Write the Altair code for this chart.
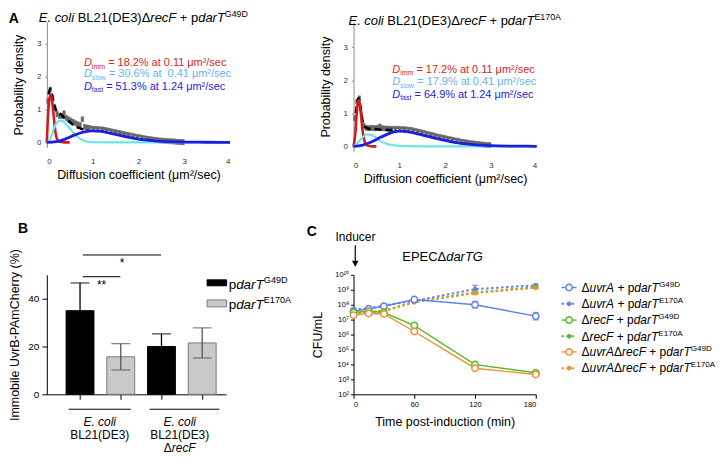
import altair as alt
import numpy as np
import pandas as pd

FONT = "Liberation Sans"

# ------------------------------------------------------------------ data
# Panel A : histograms (bin width 0.05 um2/s, starting at 0) and fitted curves
A_BIN_LEFT = [round(0.05 * i, 2) for i in range(60)]
A1_HIST = [1.25, 1.6, 1.35, 1.05, 0.86, 0.8, 0.8, 0.88, 0.74, 0.7, 0.66, 0.62, 0.58, 0.55, 0.52, 0.7, 0.47, 0.45, 0.44, 0.42,
           0.41, 0.405, 0.4, 0.395, 0.39, 0.375, 0.36, 0.345, 0.33, 0.315, 0.3, 0.285, 0.27, 0.255, 0.24, 0.225, 0.21, 0.195, 0.18, 0.167,
           0.155, 0.14, 0.127, 0.115, 0.103, 0.093, 0.083, 0.074, 0.065, 0.058, 0.052, 0.046, 0.04, 0.036, 0.032, 0.028, 0.02, 0.015, 0.01, 0.006]
A2_HIST = [0.85, 1.35, 1.45, 0.95, 0.62, 0.56, 0.55, 0.56, 0.55, 0.55, 0.56, 0.6, 0.55, 0.54, 0.54, 0.53, 0.53, 0.53, 0.53, 0.53,
           0.52, 0.52, 0.515, 0.51, 0.5, 0.49, 0.475, 0.46, 0.44, 0.425, 0.41, 0.39, 0.37, 0.355, 0.34, 0.32, 0.3, 0.285, 0.27, 0.255,
           0.24, 0.225, 0.21, 0.195, 0.18, 0.165, 0.15, 0.14, 0.13, 0.118, 0.106, 0.095, 0.085, 0.076, 0.068, 0.06, 0.055, 0.048, 0.042, 0.036]

A1_RED_X = [0, 0.03, 0.06, 0.09, 0.12, 0.15, 0.18, 0.21, 0.25, 0.3, 0.4, 0.5]
A1_RED_Y = [0, 0.9, 1.35, 1.45, 1.2, 0.8, 0.4, 0.15, 0.05, 0.01, 0, 0]
A1_CYAN_X = [0, 0.05, 0.1, 0.15, 0.2, 0.25, 0.3, 0.35, 0.4, 0.5, 0.6, 0.7, 0.8, 0.9, 1.0, 1.2, 4.0]
A1_CYAN_Y = [0, 0.04, 0.2, 0.4, 0.56, 0.64, 0.66, 0.64, 0.58, 0.43, 0.26, 0.13, 0.06, 0.02, 0.005, 0, 0]
A1_BLUE_X = [0, 0.2, 0.4, 0.6, 0.8, 1.0, 1.2, 1.4, 1.6, 1.8, 2.0, 2.2, 2.4, 2.6, 2.8, 3.0, 3.5, 4.0]
A1_BLUE_Y = [0, 0.02, 0.1, 0.22, 0.31, 0.35, 0.33, 0.27, 0.21, 0.15, 0.1, 0.065, 0.04, 0.025, 0.015, 0.01, 0.004, 0.001]
A1_SUM_X = [0.04, 0.07, 0.1, 0.15, 0.2, 0.3, 0.4, 0.5, 0.6, 0.7, 0.8, 0.9]
A1_SUM_Y = [1.45, 1.62, 1.5, 1.2, 0.98, 0.86, 0.72, 0.62, 0.5, 0.44, 0.39, 0.36]
A1_EDGE_X = [0.95, 1.2, 1.4, 1.6, 1.8, 2.0, 2.2]
A1_EDGE_Y = [0.395, 0.375, 0.315, 0.255, 0.195, 0.145, 0.105]

A2_RED_X = [0, 0.04, 0.07, 0.1, 0.12, 0.15, 0.18, 0.21, 0.25, 0.3, 0.4, 0.5]
A2_RED_Y = [0, 0.4, 1.0, 1.35, 1.4, 1.15, 0.7, 0.35, 0.12, 0.03, 0, 0]
A2_CYAN_X = [0, 0.1, 0.2, 0.3, 0.4, 0.5, 0.6, 0.7, 0.8, 0.9, 1.0, 1.2, 1.5, 4.0]
A2_CYAN_Y = [0, 0.12, 0.28, 0.36, 0.34, 0.26, 0.15, 0.09, 0.05, 0.03, 0.015, 0.005, 0, 0]
A2_BLUE_X = [0, 0.2, 0.4, 0.6, 0.8, 1.0, 1.2, 1.4, 1.6, 1.8, 2.0, 2.2, 2.4, 2.6, 2.8, 3.0, 3.5, 4.0]
A2_BLUE_Y = [0, 0.04, 0.14, 0.28, 0.4, 0.46, 0.44, 0.38, 0.31, 0.24, 0.18, 0.12, 0.08, 0.05, 0.035, 0.02, 0.008, 0.002]
A2_SUM_X = [0.05, 0.08, 0.11, 0.14, 0.18, 0.22, 0.3, 0.4, 0.5, 0.6, 0.7, 0.8, 0.9]
A2_SUM_Y = [1.0, 1.3, 1.45, 1.3, 0.9, 0.65, 0.55, 0.52, 0.52, 0.5, 0.5, 0.49, 0.49]
A2_EDGE_X = [0.75, 1.0, 1.2, 1.4, 1.6, 1.8, 2.0, 2.2, 2.4]
A2_EDGE_Y = [0.505, 0.505, 0.485, 0.425, 0.355, 0.285, 0.225, 0.165, 0.125]

A1_FIT_TEXT = ["= 18.2% at 0.11 μm²/sec", "= 30.6% at  0.41 μm²/sec", "= 51.3% at 1.24 μm²/sec"]
A2_FIT_TEXT = ["= 17.2% at 0.11 μm²/sec", "= 17.9% at 0.41 μm²/sec", "= 64.9% at 1.24 μm²/sec"]
FIT_SUB = ["imm", "slow", "fast"]

# Panel B : immobile UvrB fraction
B_POS = [1, 2, 3, 4]
B_MEAN = [35.0, 15.7, 20.0, 21.5]
B_ERR = [11.6, 5.5, 5.3, 6.3]
B_PLASMID = ["G49D", "E170A", "G49D", "E170A"]

# Panel C : CFU/mL over time
C_TIME = [0, 15, 30, 60, 120, 180]
C_SERIES = [
    # (strain, plasmid, values, error half-width in decades)
    ("uvrA", "G49D", [3.6e7, 5.4e7, 7.8e7, 2.2e8, 1.0e8, 1.7e7], [0.15, 0.1, 0.15, 0.08, 0.22, 0.25]),
    ("uvrA", "E170A", [4.7e7, 5.6e7, 8.9e7, 1.8e8, 1.1e9, 2.0e9], [0.1, 0.05, 0.05, 0.05, 0.25, 0.08]),
    ("recF", "G49D", [3.0e7, 3.6e7, 3.0e7, 4.0e6, 9.8e3, 2.8e3], [0.05, 0.05, 0.05, 0.12, 0.15, 0.08]),
    ("recF", "E170A", [2.5e7, 3.2e7, 4.0e7, 1.5e8, 6.6e8, 1.5e9], [0, 0, 0, 0, 0.1, 0.05]),
    ("uvrArecF", "G49D", [2.0e7, 2.6e7, 2.4e7, 1.6e6, 5.6e3, 2.1e3], [0.08, 0.05, 0.05, 0.05, 0.05, 0.05]),
    ("uvrArecF", "E170A", [2.2e7, 3.2e7, 3.6e7, 1.45e8, 6.0e8, 1.35e9], [0, 0, 0, 0, 0.1, 0.05]),
]
C_COLORS = {"uvrA": "#5f80f0", "recF": "#5bb82c", "uvrArecF": "#ea9236"}

# ------------------------------------------------------------------ text helper
W = {' ': 278, '(': 333, ')': 333, '*': 389, '+': 584, '-': 333, '.': 278, '/': 278, '=': 584, '%': 889,
     'Δ': 668, 'μ': 576, '²': 333}
for ch in "0123456789":
    W[ch] = 556
W.update(dict(zip("ABCDEFGHIJKLMNOPQRSTUVWXYZ",
                  [667, 667, 722, 722, 667, 611, 778, 722, 278, 500, 667, 556, 833, 722, 778, 667, 778, 722, 667, 611, 722, 667, 944, 667, 667, 611])))
W.update(dict(zip("abcdefghijklmnopqrstuvwxyz",
                  [556, 556, 500, 556, 556, 278, 556, 556, 222, 222, 500, 222, 833, 556, 556, 556, 556, 333, 500, 278, 556, 500, 722, 500, 500, 500])))


def tw(s, fs):
    return sum(W.get(c, 556) for c in s) * fs / 1000.0


def rich(X, Y, x, y, pieces, fs, color="black", align="left", small=0.68):
    """pieces: list of (text, kind) kind in n / i / b / sup / sub"""
    sizes = [fs * small if k in ("sup", "sub") else fs for _, k in pieces]
    widths = [tw(t, f) for (t, _), f in zip(pieces, sizes)]
    total = sum(widths)
    off = {"left": 0, "center": -total / 2, "right": -total}[align]
    df = pd.DataFrame({"x": [x], "y": [y]})
    out = []
    for (t, k), f, w in zip(pieces, sizes, widths):
        dy = fs * 0.36
        if k == "sup":
            dy -= fs * 0.42
        if k == "sub":
            dy += fs * 0.22
        lead = len(t) - len(t.lstrip(" "))
        shown = t.strip(" ")
        out.append(
            alt.Chart(df).mark_text(
                align="left", baseline="alphabetic", dx=round(off + lead * W[" "] * f / 1000.0, 2), dy=round(dy, 2),
                fontSize=round(f, 2), fontStyle="italic" if k == "i" else "normal",
                fontWeight="bold" if k == "b" else "normal", color=color, font=FONT,
            ).encode(x=X, y=Y, text=alt.value(shown.replace(" ", "\u00a0")))
        )
        off += w
    return out


# ------------------------------------------------------------------ panel A
def panel_a(hist, red, cyan, blue, summ, edge, ymax, height, title_xy, plasmid, fit_text, fit_xy, letter_xy=None):
    X = alt.X("x:Q", scale=alt.Scale(domain=[0, 4], nice=False, zero=False),
              axis=alt.Axis(values=[0, 1, 2, 3, 4], domain=False, ticks=False, labelFontSize=8,
                            labelPadding=10, labelColor="#333333", title="Diffusion coefficient (μm²/sec)",
                            titleFontSize=12.5, titlePadding=3, titleColor="black"))
    Y = alt.Y("y:Q", scale=alt.Scale(domain=[0, ymax], nice=False, zero=True),
              axis=alt.Axis(values=[0, 1, 2, 3], domainColor="#8a8a8a", tickColor="#8a8a8a", tickSize=2,
                            labelFontSize=8, labelPadding=4, labelColor="#333333", title="Probability density",
                            titleFontSize=12.5, titlePadding=11, titleColor="black"))
    hdf = pd.DataFrame({"x": A_BIN_LEFT, "y": hist})
    layers = [
        alt.Chart(hdf).transform_calculate(x2="datum.x + 0.05").mark_bar(
            color="#686868", stroke="#686868", strokeWidth=0.7).encode(x=X, x2="x2:Q", y=Y),
        alt.Chart(pd.DataFrame({"x": edge[0], "y": edge[1]})).mark_line(
            color="white", strokeWidth=1.1, strokeDash=[1.5, 3], interpolate="monotone").encode(x=X, y=Y),
        alt.Chart(pd.DataFrame({"x": summ[0], "y": summ[1]})).mark_line(
            color="black", strokeWidth=2.6, strokeDash=[7, 4], interpolate="monotone").encode(x=X, y=Y),
        alt.Chart(pd.DataFrame({"x": red[0], "y": red[1]})).mark_line(
            color="#d01c1c", strokeWidth=2.6, interpolate="monotone").encode(x=X, y=Y),
        alt.Chart(pd.DataFrame({"x": cyan[0], "y": cyan[1]})).mark_line(
            color="#6ae6e8", strokeWidth=2.2, interpolate="monotone").encode(x=X, y=Y),
        alt.Chart(pd.DataFrame({"x": blue[0], "y": blue[1]})).mark_line(
            color="#1e1ee0", strokeWidth=2.8, interpolate="monotone").encode(x=X, y=Y),
    ]
    layers += rich(X, Y, title_xy[0], title_xy[1],
                   [("E. coli", "i"), (" BL21(DE3)Δ", "n"), ("recF", "i"), (" + p", "n"), ("darT", "i"), (plasmid, "sup")],
                   13)
    cols = ["#d8261e", "#6eb0ea", "#2424d8"]
    for k in range(3):
        layers += rich(X, Y, fit_xy[0], fit_xy[1][k],
                       [("D", "i"), (FIT_SUB[k], "sub"), (" " + fit_text[k], "n")], 11, color=cols[k], small=0.64)
    if letter_xy is not None:
        layers += rich(X, Y, letter_xy[0], letter_xy[1], [("A", "b")], 14)
    return alt.layer(*layers).properties(width=184, height=height)


A1 = panel_a(A1_HIST, (A1_RED_X, A1_RED_Y), (A1_CYAN_X, A1_CYAN_Y), (A1_BLUE_X, A1_BLUE_Y),
             (A1_SUM_X, A1_SUM_Y), (A1_EDGE_X, A1_EDGE_Y), 3.5, 126, (-0.175, 3.78), "G49D", A1_FIT_TEXT,
             (0.81, [2.43, 2.09, 1.72]), letter_xy=(-0.83, 3.78))
A2 = panel_a(A2_HIST, (A2_RED_X, A2_RED_Y), (A2_CYAN_X, A2_CYAN_Y), (A2_BLUE_X, A2_BLUE_Y),
             (A2_SUM_X, A2_SUM_Y), (A2_EDGE_X, A2_EDGE_Y), 130 / 36.0, 130, (-0.11, 3.81), "E170A", A2_FIT_TEXT,
             (0.845, [2.35, 1.96, 1.59]))

# ------------------------------------------------------------------ panel B
XB = alt.X("x:Q", scale=alt.Scale(domain=[0.307, 4.464], nice=False, zero=False),
           axis=alt.Axis(values=[1, 2, 3, 4], labels=False, tickSize=5, title=None))
YB = alt.Y("y:Q", scale=alt.Scale(domain=[0, 50], nice=False),
           axis=alt.Axis(values=[0, 10, 20, 30, 40, 50], tickSize=5, labelFontSize=10, labelPadding=3,
                         title="Immobile UvrB-PAmCherry (%)", titleFontSize=12.5, titlePadding=6))
fill_map = {"G49D": "#000000", "E170A": "#c9c9c9"}
stroke_map = {"G49D": "#000000", "E170A": "#7a7a7a"}
err_map = {"G49D": "#000000", "E170A": "#555555"}
bdf = pd.DataFrame({"x": B_POS, "y": B_MEAN, "err": B_ERR, "p": B_PLASMID})
bdf["fill"] = bdf["p"].map(fill_map)
bdf["stroke"] = bdf["p"].map(stroke_map)
bdf["ecol"] = bdf["p"].map(err_map)
bdf["lo"] = bdf["y"] - bdf["err"]
bdf["hi"] = bdf["y"] + bdf["err"]

YB_lo = alt.Y("lo:Q", scale=alt.Scale(domain=[0, 50], nice=False))
YB_hi = alt.Y("hi:Q", scale=alt.Scale(domain=[0, 50], nice=False))
b_layers = [
    alt.Chart(bdf).mark_bar(size=28, strokeWidth=1).encode(
        x=XB, y=YB, fill=alt.Fill("fill:N", scale=None), stroke=alt.Stroke("stroke:N", scale=None)),
    alt.Chart(bdf).mark_rule(strokeWidth=1.3).encode(
        x=XB, y=YB_lo, y2="hi:Q", color=alt.Color("ecol:N", scale=None)),
    alt.Chart(bdf).mark_tick(orient="horizontal", size=19, thickness=1.3).encode(
        x=XB, y=YB_hi, color=alt.Color("ecol:N", scale=None)),
    alt.Chart(bdf).mark_tick(orient="horizontal", size=19, thickness=1.3).encode(
        x=XB, y=YB_lo, color=alt.Color("ecol:N", scale=None)),
]
# significance brackets, group lines (data coordinates)
sig = pd.DataFrame({"x": [1.07, 1.07], "x2": [1.99, 2.99], "y": [49.2, 58.3]})
grp = pd.DataFrame({"x": [0.723, 2.709], "x2": [2.247, 4.418], "y": [-6.25, -6.25]})
b_layers += [
    alt.Chart(sig).mark_rule(strokeWidth=1, color="black").encode(x=XB, x2="x2:Q", y=YB),
    alt.Chart(grp).mark_rule(strokeWidth=1, color="black").encode(x=XB, x2="x2:Q", y=YB),
]
b_layers += rich(XB, YB, 1.53, 49.2 - 3.2, [("**", "n")], 12, align="center")
b_layers += rich(XB, YB, 2.03, 58.3 - 3.2, [("*", "n")], 12, align="center")
b_layers += rich(XB, YB, 1.485, -11.3, [("E. coli", "i")], 12, align="center")
b_layers += rich(XB, YB, 1.485, -16.9, [("BL21(DE3)", "n")], 12, align="center")
b_layers += rich(XB, YB, 3.448, -11.3, [("E. coli", "i")], 12, align="center")
b_layers += rich(XB, YB, 3.448, -16.9, [("BL21(DE3)", "n")], 12, align="center")
b_layers += rich(XB, YB, 3.448, -22.5, [("Δ", "n"), ("recF", "i")], 12, align="center")
# legend
leg = pd.DataFrame({"x": [4.12, 4.12], "x2": [4.6, 4.6], "y": [47.9, 39.5], "y2": [45.4, 36.6],
                    "fill": ["#000000", "#c9c9c9"], "stroke": ["#000000", "#7a7a7a"]})
b_layers.append(alt.Chart(leg).mark_rect(strokeWidth=1).encode(
    x=XB, x2="x2:Q", y=YB, y2="y2:Q", fill=alt.Fill("fill:N", scale=None), stroke=alt.Stroke("stroke:N", scale=None)))
for yy, pl in [(46.3, "G49D"), (37.9, "E170A")]:
    b_layers += rich(XB, YB, 4.65, yy, [("p", "n"), ("darT", "i"), (pl, "sup")], 13.5)
b_layers += rich(XB, YB, -0.524, 69.6, [("B", "b")], 14)
B = alt.layer(*b_layers).properties(width=180, height=120)

# ------------------------------------------------------------------ panel C
XC = alt.X("x:Q", scale=alt.Scale(domain=[0, 180], nice=False, zero=False),
           axis=alt.Axis(values=[0, 60, 120, 180], tickSize=4, labelFontSize=7.5, labelPadding=2,
                         title="Time post-induction (min)", titleFontSize=12.5, titlePadding=8))
sup_expr = "'10' + ['','','²','³','⁴','⁵','⁶','⁷','⁸','⁹','¹⁰'][round(log(datum.value)/LN10)]"
YC = alt.Y("y:Q", scale=alt.Scale(type="log", domain=[1e2, 1e10], nice=False),
           axis=alt.Axis(values=[10.0 ** k for k in range(2, 11)], labelExpr=sup_expr, tickSize=3,
                         labelFontSize=7.5, labelPadding=2, title="CFU/mL", titleFontSize=12.5, titlePadding=10))
YC_lo = alt.Y("lo:Q", scale=alt.Scale(type="log", domain=[1e2, 1e10], nice=False))
YC_hi = alt.Y("hi:Q", scale=alt.Scale(type="log", domain=[1e2, 1e10], nice=False))

c_layers = []
order = [1, 3, 5, 0, 2, 4]  # dotted series first, solid on top
for idx in order:
    strain, pl, vals, err = C_SERIES[idx]
    col = C_COLORS[strain]
    dotted = pl == "E170A"
    df = pd.DataFrame({"x": C_TIME, "y": vals, "e": err})
    df["lo"] = df["y"] / 10 ** df["e"]
    df["hi"] = df["y"] * 10 ** df["e"]
    edf = df[df["e"] > 0]
    line_kw = dict(color=col, strokeWidth=1.4)
    if dotted:
        line_kw["strokeDash"] = [2.5, 2.5]
        line_kw["strokeWidth"] = 2
    c_layers.append(alt.Chart(df).mark_line(**line_kw).encode(x=XC, y=YC))
    c_layers.append(alt.Chart(edf).mark_rule(color=col, strokeWidth=1.3).encode(x=XC, y=YC_lo, y2="hi:Q"))
    c_layers.append(alt.Chart(edf).mark_tick(orient="horizontal", size=6, thickness=1.3, color=col).encode(x=XC, y=YC_hi))
    c_layers.append(alt.Chart(edf).mark_tick(orient="horizontal", size=6, thickness=1.3, color=col).encode(x=XC, y=YC_lo))
    if dotted:
        c_layers.append(alt.Chart(df).mark_circle(size=22, color=col, opacity=1).encode(x=XC, y=YC))
    else:
        c_layers.append(alt.Chart(df).mark_point(shape="circle", size=42, filled=True, fill="white",
                                                 stroke=col, strokeWidth=1.5, opacity=1).encode(x=XC, y=YC))

# legend rows (data coordinates outside the plot)
LEG_EXP = [9.15, 8.06, 6.97, 5.88, 4.84, 3.75]
for row, (strain, pl, vals, err) in enumerate(C_SERIES):
    col = C_COLORS[strain]
    dotted = pl == "E170A"
    yv = 10 ** LEG_EXP[row]
    ldf = pd.DataFrame({"x": [205.5], "x2": [220.3], "y": [yv]})
    rk = dict(color=col, strokeWidth=2 if dotted else 1.4)
    if dotted:
        rk["strokeDash"] = [2.5, 2.5]
    c_layers.append(alt.Chart(ldf).mark_rule(**rk).encode(x=XC, x2="x2:Q", y=YC))
    pdf = pd.DataFrame({"x": [212.9], "y": [yv]})
    if dotted:
        c_layers.append(alt.Chart(pdf).mark_circle(size=22, color=col, opacity=1).encode(x=XC, y=YC))
    else:
        c_layers.append(alt.Chart(pdf).mark_point(shape="circle", size=42, filled=True, fill="white",
                                                  stroke=col, strokeWidth=1.5, opacity=1).encode(x=XC, y=YC))
    if strain == "uvrA":
        sp = [("Δ", "n"), ("uvrA", "i")]
    elif strain == "recF":
        sp = [("Δ", "n"), ("recF", "i")]
    else:
        sp = [("Δ", "n"), ("uvrA", "i"), ("Δ", "n"), ("recF", "i")]
    c_layers += rich(XC, YC, 225.2, yv, sp + [(" + p", "n"), ("darT", "i"), (pl, "sup")], 12)

# inducer arrow and labels
arrow = pd.DataFrame({"x": [1.7], "y": [10 ** 11.98], "y2": [10 ** 10.95]})
c_layers.append(alt.Chart(arrow).mark_rule(color="black", strokeWidth=1.2).encode(x=XC, y=YC, y2="y2:Q"))
c_layers.append(alt.Chart(pd.DataFrame({"x": [1.7], "y": [10 ** 10.74]})).mark_point(
    shape="triangle-down", size=45, filled=True, color="black", opacity=1).encode(x=XC, y=YC))
c_layers += rich(XC, YC, 1.9, 10 ** 12.55, [("Inducer", "n")], 12, align="center")
c_layers += rich(XC, YC, 48.2, 10 ** 11.26, [("EPECΔ", "n"), ("darTG", "i")], 13)
c_layers += rich(XC, YC, -46.2, 10 ** 12.94, [("C", "b")], 14)
C = alt.layer(*c_layers).properties(width=183, height=120)

# ------------------------------------------------------------------ assemble
chart = alt.concat(A1, A2, B, C, columns=2, bounds="flush",
                   spacing={"row": 124, "column": 124}).properties(padding=0)
chart = chart.configure(font=FONT).configure_view(stroke=None).configure_axis(
    grid=False, labelFont=FONT, titleFont=FONT, titleFontWeight="normal",
    domainColor="black", tickColor="black", labelColor="black", titleColor="black")

chart.save("out.html", embed_options={"renderer": "svg", "actions": False})
